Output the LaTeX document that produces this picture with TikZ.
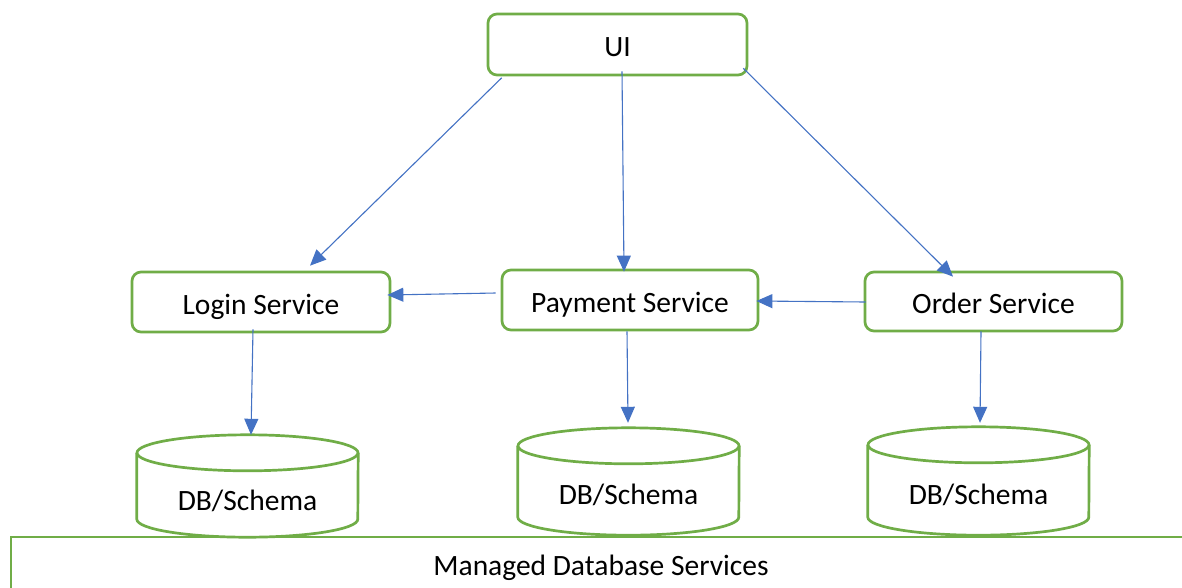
\documentclass[tikz,border=0pt]{standalone}
\usepackage{fontspec}
\setmainfont{Carlito}
\usetikzlibrary{arrows.meta,calc}
\definecolor{boxgreen}{HTML}{70AD47}
\definecolor{linkblue}{HTML}{4472C4}

% outline of a database cylinder around an invisible node
\newcommand{\dbcylinder}[1]{%
  \draw[dbline] ($(#1.north west)+(0,18)$) -- ($(#1.south west)+(0,-18)$)
    arc[start angle=180, end angle=360, x radius=110.5pt, y radius=18pt]
    -- ($(#1.north east)+(0,18)$);
  \draw[dbline] ($(#1.north)+(0,18)$) ellipse[x radius=110.5pt, y radius=18pt];
}

\begin{document}
\begin{tikzpicture}[x=1pt, y=-1pt,
  every node/.style={font=\fontsize{29.5}{35}\selectfont, inner sep=0pt,
    text height=28pt, text depth=3.4pt},
  svc/.style={draw=boxgreen, line width=2.7pt, rounded corners=9pt, fill=white},
  dbline/.style={draw=boxgreen, line width=2.7pt},
  dbbox/.style={minimum width=221pt},
  link/.style={draw=linkblue, line width=1.1pt, -{Triangle[length=16pt,width=14pt]}}
]
\useasboundingbox[fill=white] (0,0) rectangle (1182,587);

% managed database layer along the bottom
\draw[dbline] (1200,537) -- (11,537) -- (11,600);
\node (mdb) at (601,563.2) {Managed Database Services};

% services
\node[svc, minimum width=259pt, minimum height=61pt] (ui) at (617.5,44.5) {UI};
\node[svc, minimum width=258pt, minimum height=60pt] (login) at (261,302) {Login Service};
\node[svc, minimum width=256pt, minimum height=60pt] (pay) at (630,300) {Payment Service};
\node[svc, minimum width=257pt, minimum height=59pt] (order) at (993.5,301.5) {Order Service};

% databases
\node[dbbox, minimum height=102pt] (dbL) at (247.5,486) {};
\node[dbbox, minimum height=107pt] (dbP) at (628.5,481.5) {};
\node[dbbox, minimum height=108pt] (dbO) at (978.5,481) {};
\dbcylinder{dbL}
\dbcylinder{dbP}
\dbcylinder{dbO}
\node (dbLt) at ($(dbL.center)+(0,12)$) {DB/Schema};
\node (dbPt) at ($(dbP.center)+(0,10.5)$) {DB/Schema};
\node (dbOt) at ($(dbO.center)+(0,11)$) {DB/Schema};

% calls
\draw[link] ($(ui.south west)+(15,1.5)$) -- ($(login.north)+(49,-5)$);
\draw[link] ($(ui.south)+(4.5,-5)$) -- ($(pay.north)+(-6,3)$);
\draw[link] ($(ui.south east)+(-5,-8)$) -- ($(order.north)+(-40.5,6)$);
\draw[link] ($(pay.west)+(-5,-7)$) -- ($(login.east)+(-4,-7)$);
\draw[link] ($(order.west)+(2,0.5)$) -- ($(pay.east)+(-3,1)$);
\draw[link] ($(login.south)+(-8,-4)$) -- ($(dbL.north)+(3.5,0)$);
\draw[link] ($(pay.south)+(-3,0)$) -- ($(dbP.north)+(-0.5,-5)$);
\draw[link] ($(order.south)+(-12.5,-1)$) -- ($(dbO.north)+(1.5,-4)$);
\end{tikzpicture}
\end{document}
